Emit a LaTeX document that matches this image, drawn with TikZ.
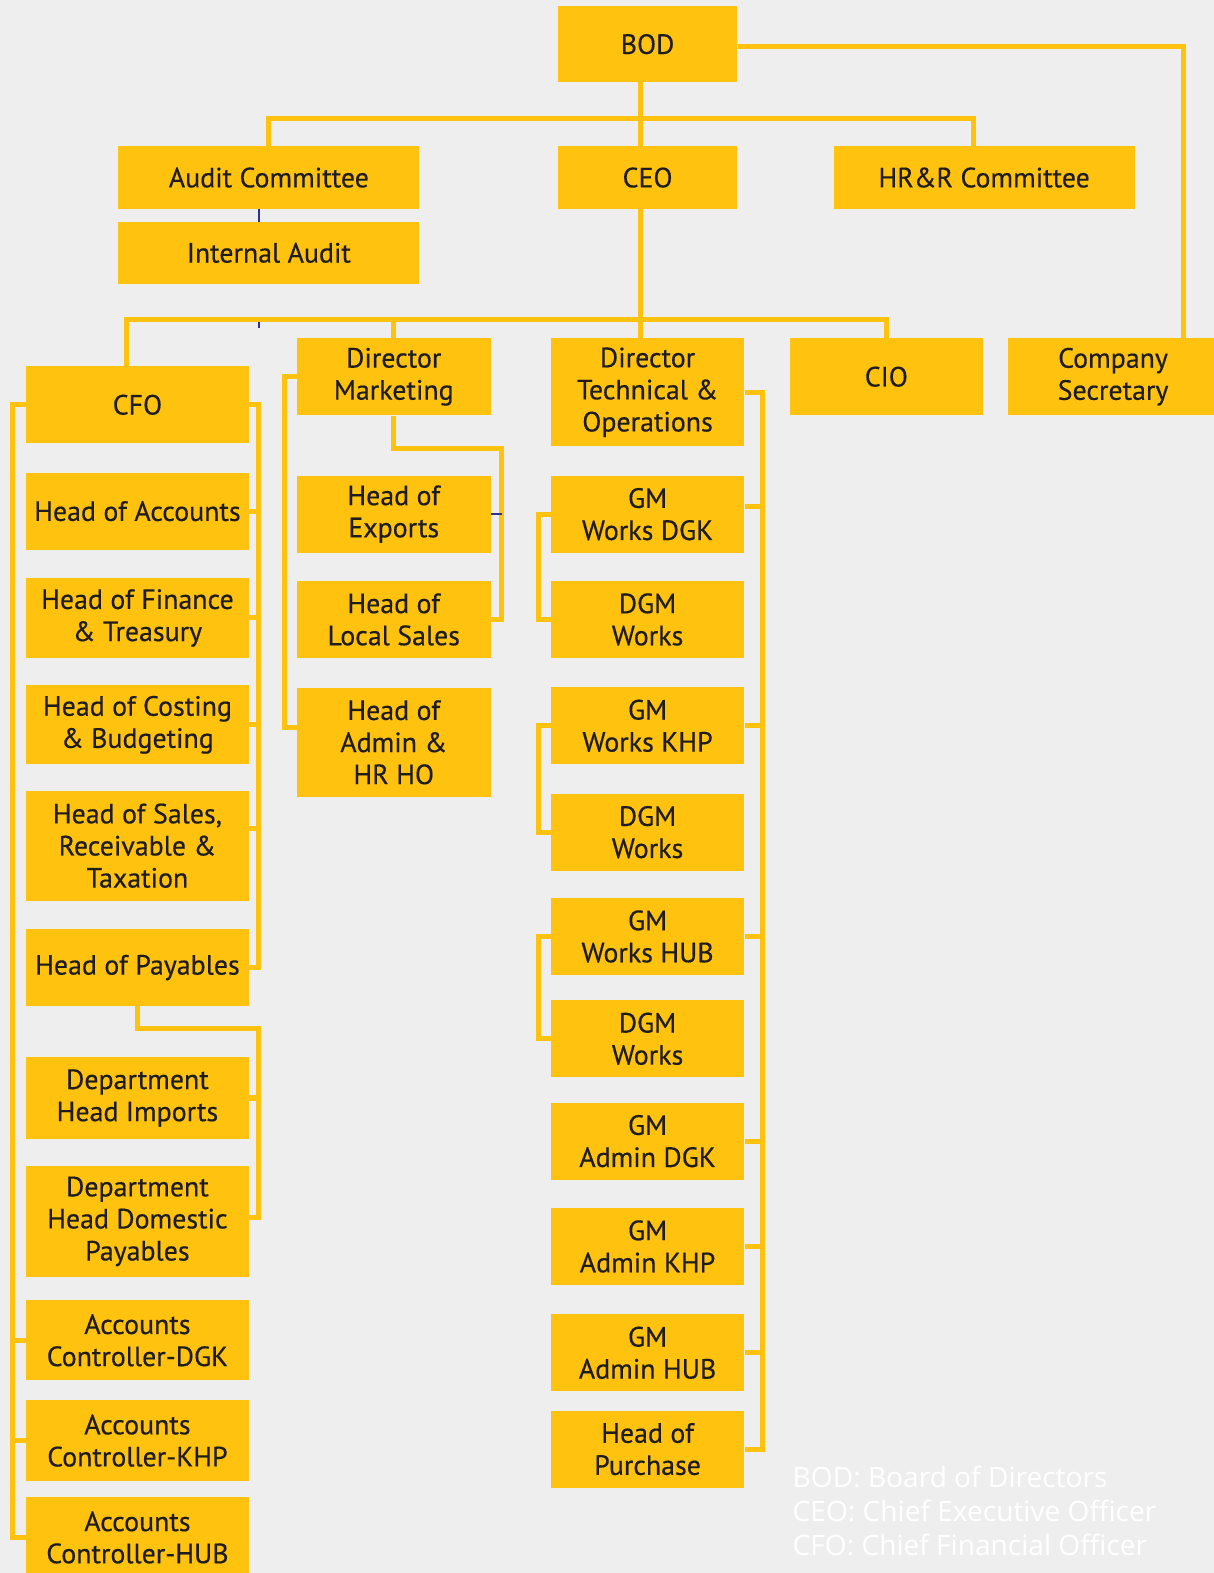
\documentclass[tikz,border=0pt]{standalone}
\usepackage{fontspec}
\setmainfont{PT Sans}
\newfontfamily\boxfont{PT Sans}[FakeBold=0.4]
\newfontfamily\notefont{Open Sans}
\definecolor{boxc}{HTML}{FFC20E}
\definecolor{txt}{HTML}{1E1C1C}
\definecolor{paper}{HTML}{EEEEEE}
\definecolor{navy}{HTML}{2E3192}
% box from its corners (x1,y1)-(x2,y2), then name and label
\newcommand{\orgbox}[6]{%
  \node[box, minimum width={#3pt-#1pt}, minimum height={#4pt-#2pt}]
    (#5) at ({(#1+#3)/2},{(#2+#4)/2}) {#6};}
\begin{document}
\begin{tikzpicture}[x=1pt,y=-1pt,
  box/.style={fill=boxc, text=txt, align=center, inner sep=0pt,
              font=\boxfont\fontsize{27.8}{32}\selectfont},
  link/.style={draw=boxc, line width=5pt},
  tie/.style={draw=navy, line width=2pt},
  note/.style={text=white, anchor=west, inner sep=0pt,
               font=\notefont\fontsize{28}{34}\selectfont}]

\fill[paper] (0,0) rectangle (1210,1568);
\useasboundingbox (0,0) rectangle (1210,1568);

% ---- boxes ----
\orgbox{556}{6}{735}{82}{bod}{BOD}
\orgbox{118}{146}{418}{208}{audit}{Audit Committee}
\orgbox{118}{221}{418}{283}{ia}{Internal Audit}
\orgbox{556}{146}{735}{208}{ceo}{CEO}
\orgbox{831}{146}{1131}{208}{hrr}{HR\&R Committee}

\orgbox{26}{365}{248}{442}{cfo}{CFO}
\orgbox{296}{337}{489}{414}{dm}{Director\\Marketing}
\orgbox{549}{337}{742}{445}{dto}{Director\\Technical \&\\Operations}
\orgbox{787}{337}{980}{414}{cio}{CIO}
\orgbox{1005}{337}{1214}{414}{cs}{Company\\Secretary}

% finance column
\orgbox{26}{471}{248}{548}{hoa}{Head of Accounts}
\orgbox{26}{576}{248}{656}{hoft}{Head of Finance\\\& Treasury}
\orgbox{26}{683}{248}{762}{hocb}{Head of Costing\\\& Budgeting}
\orgbox{26}{788}{248}{898}{hosrt}{Head of Sales,\\Receivable \&\\Taxation}
\orgbox{26}{926}{248}{1003}{hop}{Head of Payables}
\orgbox{26}{1054}{248}{1135}{dhi}{Department\\Head Imports}
\orgbox{26}{1162}{248}{1273}{dhdp}{Department\\Head Domestic\\Payables}
\orgbox{26}{1296}{248}{1376}{acd}{Accounts\\Controller-DGK}
\orgbox{26}{1396}{248}{1476}{ack}{Accounts\\Controller-KHP}
\orgbox{26}{1492}{248}{1573}{ach}{Accounts\\Controller-HUB}

% marketing column
\orgbox{296}{474}{489}{551}{hoe}{Head of\\Exports}
\orgbox{296}{579}{489}{656}{hls}{Head of\\Local Sales}
\orgbox{296}{686}{489}{794}{ahr}{Head of\\Admin \&\\HR HO}

% technical column
\orgbox{549}{474}{742}{551}{gwd}{GM\\Works DGK}
\orgbox{549}{579}{742}{656}{dgma}{DGM\\Works}
\orgbox{549}{685}{742}{762}{gwk}{GM\\Works KHP}
\orgbox{549}{791}{742}{868}{dgmb}{DGM\\Works}
\orgbox{549}{895}{742}{972}{gwh}{GM\\Works HUB}
\orgbox{549}{997}{742}{1074}{dgmc}{DGM\\Works}
\orgbox{549}{1099}{742}{1176}{gad}{GM\\Admin DGK}
\orgbox{549}{1204}{742}{1281}{gak}{GM\\Admin KHP}
\orgbox{549}{1310}{742}{1387}{gah}{GM\\Admin HUB}
\orgbox{549}{1406}{742}{1483}{hpu}{Head of\\Purchase}

% ---- guide coordinates for the elbows ----
\coordinate (trunk) at (638,118);
\coordinate (hub) at (638,318);
\coordinate (csx) at (1180,0);
\coordinate (cfoR) at (258,0);
\coordinate (cfoL) at (12,0);
\coordinate (payR) at (258,1025);
\coordinate (dmL) at (284,0);
\coordinate (dmR) at (500,447);
\coordinate (dtoR) at (760,0);
\coordinate (dtoL) at (537,0);
\coordinate (iax) at (258,0);

% ---- board level ----
\draw[link] (bod.south -| trunk) -- (ceo.north -| trunk);
\draw[link] (trunk) -| (audit.north);
\draw[link] (trunk) -| ([xshift=-11pt]hrr.north);
\draw[link] ([yshift=-2pt]bod.east) -| (cs.north -| csx);
\draw[tie] (audit.south -| iax) -- (ia.north -| iax);

% ---- CEO level ----
\draw[link] (ceo.south -| hub) -- (hub);
\draw[link] (hub) -| ([xshift=-11pt]cfo.north);
\draw[link] (hub) -| (dm.north);
\draw[link] (hub) -- (dto.north -| hub);
\draw[link] (hub) -| (cio.north);
\draw[tie] ([yshift=-3pt]hub -| iax) -- ([yshift=-9pt]hub -| iax);

% ---- CFO ----
\foreach \c in {hoa,hoft,hocb,hop}
  \draw[link] (cfo.east) -- (cfo.east -| cfoR) |- (\c.east);
\draw[link] (cfo.east) -- (cfo.east -| cfoR) |- ([yshift=17pt]hosrt.east);
\draw[link] (hop.south) |- (payR) |- (dhi.east);
\draw[link] (payR) |- ([yshift=4pt]dhdp.east);
\foreach \c in {acd,ack,ach}
  \draw[link] (cfo.west) -- (cfo.west -| cfoL) |- (\c.west);

% ---- Director Marketing ----
\draw[link] (dm.west) -- (dm.west -| dmL) |- ([yshift=15pt]ahr.west);
\draw[link] (dm.south) |- (dmR) |- (hls.east);
\draw[tie] (hoe.east) -- (hoe.east -| dmR);

% ---- Director Technical & Operations ----
\draw[link] (dto.east) -- (dto.east -| dtoR) |- ([yshift=8pt]gwd.east);
\foreach \c in {gwk,gwh,gad,gak,gah,hpu}
  \draw[link] (dto.east) -- (dto.east -| dtoR) |- (\c.east);
\draw[link] (gwd.west) -- (gwd.west -| dtoL) |- (dgma.west);
\draw[link] (gwk.west) -- (gwk.west -| dtoL) |- (dgmb.west);
\draw[link] (gwh.west) -- (gwh.west -| dtoL) |- (dgmc.west);

% ---- abbreviations ----
\node[note] (n1) at (790,1472) {BOD: Board of Directors};
\node[note] (n2) at (790,1506) {CEO: Chief Executive Officer};
\node[note] (n3) at (790,1540) {CFO: Chief Financial Officer};
\end{tikzpicture}
\end{document}
